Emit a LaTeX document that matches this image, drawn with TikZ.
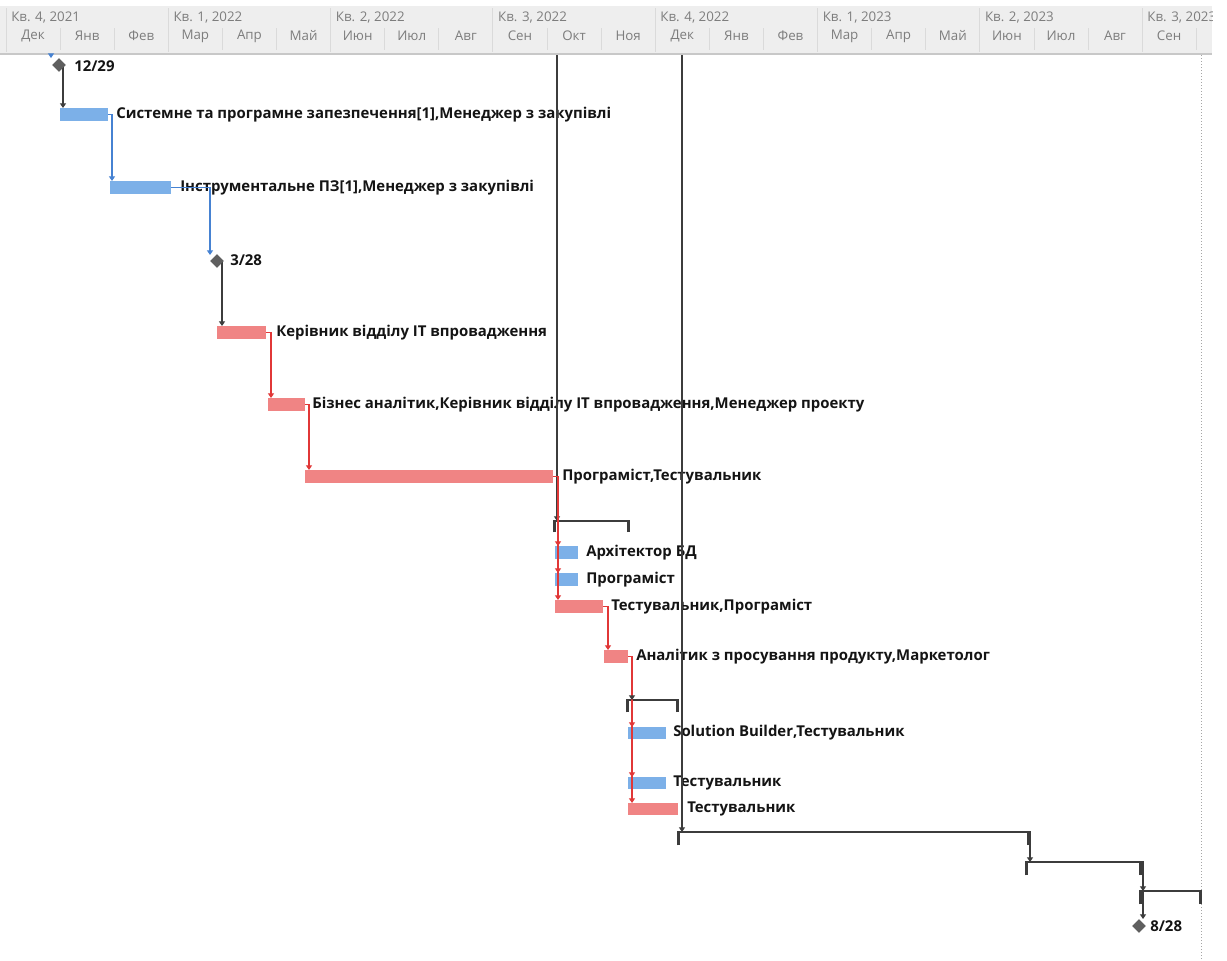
\documentclass[tikz,border=0pt]{standalone}
\usepackage{fontspec}
\setmainfont{Open Sans}
\usetikzlibrary{arrows.meta,shapes.geometric,fit,calc}
\definecolor{barblue}{RGB}{124,176,232}
\definecolor{barred}{RGB}{240,132,132}
\definecolor{lnblue}{RGB}{70,130,210}
\definecolor{lnred}{RGB}{225,55,55}
\definecolor{msgrey}{RGB}{95,95,95}
\definecolor{hdrbg}{RGB}{238,238,238}
\definecolor{hdrline}{RGB}{200,200,200}
\definecolor{hdrsep}{RGB}{218,218,218}
\definecolor{hdrtxt}{RGB}{125,125,125}
\definecolor{sumgrey}{RGB}{60,60,60}
\definecolor{lbltxt}{RGB}{20,20,20}
\newcommand\gbar[6]{\node[#1, fit={(#3,#4) (#5,#6)}] (#2) {};}
\newcommand\gsum[5]{\node[sumbox, fit={(#2,#4) (#3,#5)}] (#1) {};
  \draw[summ] (#1.south west) -- (#1.north west) -- (#1.north east) -- (#1.south east);
  \draw[sumgrey, line width=2.2pt] ([xshift=0.6pt]#1.south west) -- ([xshift=0.6pt]#1.north west);
  \draw[sumgrey, line width=2.2pt] ([xshift=-0.6pt]#1.south east) -- ([xshift=-0.6pt]#1.north east);}
\tikzset{
  bluebar/.style={fill=barblue, draw=none, inner sep=0pt, outer sep=0pt},
  redbar/.style={fill=barred, draw=none, inner sep=0pt, outer sep=0pt},
  sumbox/.style={draw=none, inner sep=0pt, outer sep=0pt},
  summ/.style={draw=sumgrey, line width=1.5pt},
  lbl/.style={anchor=west, inner sep=0pt, text=lbltxt, font=\bfseries\fontsize{11.2}{13}\selectfont},
  qlbl/.style={anchor=west, inner sep=0pt, text=hdrtxt, font=\fontsize{10}{12}\selectfont},
  mlbl/.style={anchor=center, inner sep=0pt, text=hdrtxt, font=\fontsize{10}{12}\selectfont},
  conn/.style={line width=0.8pt, -{Triangle[width=4.5pt,length=3.5pt]}},
  bconn/.style={conn, draw=lnblue},
  rconn/.style={conn, draw=lnred},
  kconn/.style={conn, draw=sumgrey},
  vline/.style={kconn, line width=1pt},
  ms/.style={diamond, fill=msgrey, draw=none, inner sep=0pt, minimum size=10pt}
}
\begin{document}
\begin{tikzpicture}[x=0.75pt,y=-0.75pt]
\useasboundingbox (0,0) rectangle (1227,960);
\fill[white] (0,0) rectangle (1227,960);
% ---------- header ----------
\begin{scope}
\clip (0,6) rectangle (1212,54);
\fill[hdrbg] (0,6) rectangle (1212,54);
\foreach \i in {0,...,7} {
  \pgfmathsetmacro\qx{6+162.3*\i}
  \draw[hdrsep, line width=0.75pt] (\qx,8) -- (\qx,52);
}
\foreach \k in {1,2,4,5,7,8,10,11,13,14,16,17,19,20,22} {
  \pgfmathsetmacro\mx{6+54.1*\k}
  \draw[hdrsep, line width=0.6pt] (\mx,28) -- (\mx,50);
}
\foreach [count=\i from 0] \q in {{Кв. 4, 2021},{Кв. 1, 2022},{Кв. 2, 2022},{Кв. 3, 2022},{Кв. 4, 2022},{Кв. 1, 2023},{Кв. 2, 2023},{Кв. 3, 2023}} {
  \pgfmathsetmacro\qx{6+162.3*\i+5}
  \node[qlbl] (q\i) at (\qx,18) {\q};
}
\foreach [count=\k from 0] \m in {Дек,Янв,Фев,Мар,Апр,Май,Июн,Июл,Авг,Сен,Окт,Ноя,Дек,Янв,Фев,Мар,Апр,Май,Июн,Июл,Авг,Сен} {
  \pgfmathsetmacro\mx{6+54.1*(\k+0.5)}
  \node[mlbl] (m\k) at (\mx,36) {\m};
}
\end{scope}
\draw[hdrline, line width=1.2pt] (0,54) -- (1212,54);
% dotted line
\coordinate (dtop) at (1201,55);
\coordinate (dbot) at (1201,960);
\draw[black!35, line width=0.75pt, dash pattern=on 0.75pt off 1.5pt] (dtop) -- (dbot);
% ---------- bars ----------
\gbar{bluebar}{b1}{60}{108}{108}{121}
\gbar{bluebar}{b2}{110}{181}{171}{194}
\gbar{redbar}{b3}{217}{326}{266}{339}
\gbar{redbar}{b4}{268}{398}{305}{411}
\gbar{redbar}{b5}{305}{470}{553}{483}
\gbar{bluebar}{b6}{555}{546}{578}{559}
\gbar{bluebar}{b7}{555}{573}{578}{586}
\gbar{redbar}{b8}{555}{600}{603}{613}
\gbar{redbar}{b9}{604}{650}{628}{663}
\gbar{bluebar}{b10}{628}{727}{666}{739}
\gbar{bluebar}{b11}{628}{777}{666}{789}
\gbar{redbar}{b12}{628}{803}{678}{815}
% ---------- summaries ----------
\gsum{br1}{554}{629}{521}{532}
\gsum{br2}{627}{678}{700}{712}
\gsum{br3}{678}{1029}{832}{845}
\gsum{br4}{1026}{1141}{862}{875}
\gsum{br5}{1140}{1201}{891}{904}
% ---------- milestones ----------
\node[ms] (ms1) at (59,65) {};
\node[ms] (ms2) at (217,261) {};
\node[ms] (ms3) at (1139,926) {};
% ---------- labels ----------
\node[lbl] (t0) at (74,66) {12/29};
\node[lbl] (t1) at (116,114.5) {Системне та програмне запезпечення[1],Менеджер з закупівлі};
\node[lbl] (t2) at (180,187.5) {Інструментальне ПЗ[1],Менеджер з закупівлі};
\node[lbl] (tm2) at (230,260) {3/28};
\node[lbl] (t3) at (276,332.5) {Керівник відділу ІТ впровадження};
\node[lbl] (t4) at (312,404.5) {Бізнес аналітик,Керівник відділу ІТ впровадження,Менеджер проекту};
\node[lbl] (t5) at (562,476.5) {Програміст,Тестувальник};
\node[lbl] (t6) at (586,552.5) {Архітектор БД};
\node[lbl] (t7) at (586,579.5) {Програміст};
\node[lbl] (t8) at (611,606.5) {Тестувальник,Програміст};
\node[lbl] (t9) at (636,656.5) {Аналітик з просування продукту,Маркетолог};
\node[lbl] (t10) at (673,733) {Solution Builder,Тестувальник};
\node[lbl] (t11) at (673,783) {Тестувальник};
\node[lbl] (t12) at (687,809) {Тестувальник};
\node[lbl] (tm3) at (1150,926) {8/28};
% ---------- helper coordinates ----------
\coordinate (in1) at (51,55);
\coordinate (m1a) at ($(ms1.center)+(4,0)$);
\coordinate (m2in) at ($(ms2.center)+(-7,-6)$);
\coordinate (m2a) at ($(ms2.center)+(5,0)$);
\coordinate (v1) at (557,55);
\coordinate (v2) at (682,55);
\coordinate (x558) at (558,0);
\coordinate (x632) at (632,0);
\coordinate (x1030) at (1030,0);
\coordinate (x1143) at (1143,0);
\coordinate (m3in) at ($(ms3.center)+(4,-7)$);
% ---------- connectors ----------
\draw[bconn] (in1) -- (in1 |- ms1.north);
\draw[kconn] (m1a) -- (m1a |- b1.north);
\draw[bconn] (b1.east) -| ($(b2.north west)+(2,0)$);
\draw[bconn] (b2.east) -| (m2in);
\draw[kconn] (m2a) -- (m2a |- b3.north);
\draw[rconn] (b3.east) -| ($(b4.north west)+(3,0)$);
\draw[rconn] (b4.east) -| ($(b5.north west)+(4,0)$);
\draw[vline] (v1) -- (v1 |- br1.north);
\draw[vline] (v2) -- (v2 |- br3.north);
\draw[rconn] (b5.east) -| (x558 |- b8.north);
\draw[rconn] (b5.east) -| (x558 |- b7.north);
\draw[rconn] (b5.east) -| (x558 |- b6.north);
\draw[rconn] (b8.east) -| ($(b9.north west)+(4,0)$);
\draw[rconn] (b9.east) -| (x632 |- b12.north);
\draw[rconn] (b9.east) -| (x632 |- b11.north);
\draw[rconn] (b9.east) -| (x632 |- b10.north);
\draw[rconn, -{Triangle[width=4.5pt,length=3.5pt,sumgrey]}] (b9.east) -| (x632 |- br2.north);
\draw[kconn] (br3.north east) -| (x1030 |- br4.north);
\draw[kconn] (br4.north east) -| (x1143 |- br5.north);
\draw[kconn] (x1143 |- br5.north) -- (m3in);
% redraw milestones on top
\node[ms] at (ms1) {};
\node[ms] at (ms2) {};
\node[ms] at (ms3) {};
\end{tikzpicture}
\end{document}
